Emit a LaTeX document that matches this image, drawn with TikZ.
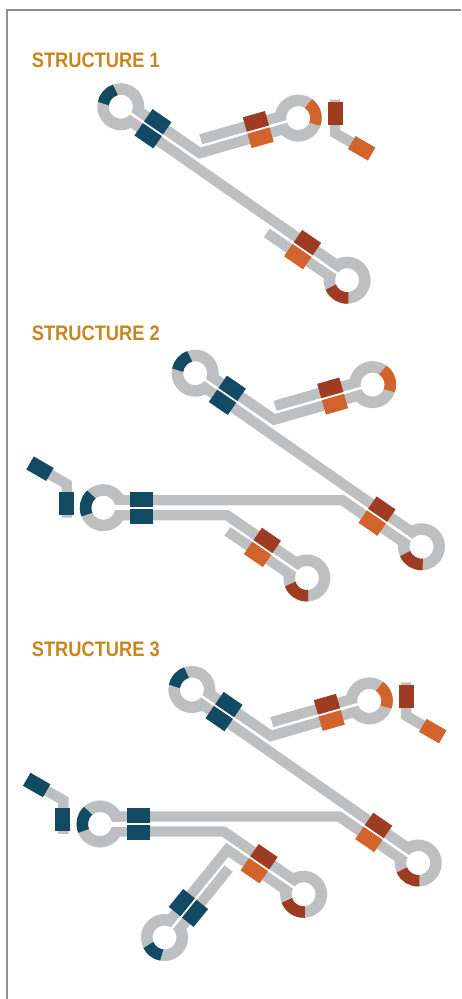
\documentclass[tikz,border=0pt]{standalone}
\usepackage{fontspec}
\setmainfont{Liberation Sans}
\usetikzlibrary{calc}

\definecolor{strandgray}{HTML}{BDBFC1}
\definecolor{pairblue}{HTML}{134A63}
\definecolor{pairrust}{HTML}{9D3C21}
\definecolor{pairamber}{HTML}{D2632C}
\definecolor{titlegold}{HTML}{C8861E}
\definecolor{framegray}{HTML}{8E8E8E}

\tikzset{
  strand/.style={draw=strandgray, line width=10.4pt, line join=miter, miter limit=10, line cap=butt},
  ringline/.style={draw=strandgray, line width=11.5pt},
  arcline/.style={line width=11.5pt, line cap=butt},
  gapline/.style={draw=white, line cap=butt},
  heading/.style={anchor=base west, inner sep=0pt, text=titlegold,
                  font=\bfseries\fontsize{21}{25}\selectfont},
}

% filled 23 x 15 box centred at #1, long side along angle #2
\newcommand{\pairbox}[3]{%
  \fill[#3] (#1) ++(#2:11.5) ++({#2+90}:7.5) -- ++({#2-90}:15) -- ++({#2+180}:23)
    -- ++({#2+90}:15) -- cycle;}

% loop ring with coloured arc and a pair of boxes on its stem
% #1 centre, #2 stem angle, #3 box distance, #4 gap width,
% #5/#6 arc angles, #7 arc colour, #8 box on the (#2-90) side, #9 box on the (#2+90) side
\newcommand{\hairpin}[9]{%
  \draw[ringline] (#1) circle[radius=17.75];
  \draw[gapline, line width=#4] ($(#1)+(#2:10)$) -- ($(#1)+(#2:{#3+11.5})$);
  \draw[arcline, draw=#7] ($(#1)+(#5:17.75)$) arc[start angle=#5, end angle=#6, radius=17.75];
  \pairbox{$(#1)+(#2:#3)+({#2-90}:8.5)$}{#2}{#8}%
  \pairbox{$(#1)+(#2:#3)+({#2+90}:8.5)$}{#2}{#9}%
}

% dangling end: straight box, elbow, slanted box; #2 is + or - for its orientation
\newcommand{\tailpiece}[4]{%
  \coordinate (tailE) at (#1);
  \draw[strand] ($(tailE)#2(0,-33.5)$) -- (tailE) -- ($(tailE)#2(30:38)$);
  \pairbox{$(tailE)#2(0.5,-19.5)$}{90}{#3}%
  \pairbox{$(tailE)#2(26.7,15.3)$}{30}{#4}%
}

% loop centres relative to the origin (O)
\newcommand{\setloops}{%
  \coordinate (A) at ($(O)+(195.2,373.2)$);
  \coordinate (B) at ($(O)+(372.6,384.6)$);
  \coordinate (C) at ($(O)+(421.5,546.7)$);
  \coordinate (L) at ($(O)+(103.3,507.7)$);
  \coordinate (D) at ($(O)+(306.9,578.0)$);
  \coordinate (E) at ($(O)+(167.8,621.2)$);
}

% strands shared by the three upper hairpins
\newcommand{\abcstrands}{%
  \draw[strand] ($(A)+(34.5:15)+(124.5:6.5)$) -- ($(C)+(214.5:15)+(304.5:6.5)$);
  \coordinate (a1) at ($(A)+(-55.5:6.5)$);
  \coordinate (a2) at ($(a1)+(34.5:100)$);
  \coordinate (b1) at ($(B)+(74:6.5)$);
  \coordinate (b2) at ($(b1)+(164:100)$);
  \coordinate (K) at (intersection of a1--a2 and b1--b2);
  \draw[strand] ($(a1)+(34.5:15)$) -- (K) -- ($(b1)+(164:15)$);
  \draw[strand] ($(B)+(254:6.5)+(164:15)$) -- ($(B)+(254:6.5)+(164:99.5)$);
}

\newcommand{\abchairpins}{%
  \hairpin{A}{34.5}{39}{2.5pt}{-170}{-108}{pairblue}{pairblue}{pairblue}
  \hairpin{B}{164}{41.6}{2.5pt}{-55}{20}{pairamber}{pairamber}{pairrust}
  \hairpin{C}{214.5}{54}{2.5pt}{86}{157}{pairrust}{pairamber}{pairrust}
}

% left hairpin joined to C and D
\newcommand{\leftstrands}{%
  \coordinate (c1) at ($(C)+(124.5:6.5)$);
  \coordinate (c2) at ($(c1)+(214.5:100)$);
  \coordinate (l1) at ($(L)+(0,-7.5)$);
  \coordinate (l2) at ($(l1)+(300,0)$);
  \coordinate (P) at (intersection of c1--c2 and l1--l2);
  \draw[strand] ($(c1)+(214.5:15)$) -- (P) -- ($(l1)+(15,0)$);
  \coordinate (d1) at ($(D)+(304.5:6.5)$);
  \coordinate (d2) at ($(d1)+(214.5:100)$);
  \coordinate (l3) at ($(L)+(0,7.5)$);
  \coordinate (l4) at ($(l3)+(300,0)$);
  \coordinate (Q) at (intersection of d1--d2 and l3--l4);
  \draw[strand] ($(d1)+(214.5:15)$) -- (Q) -- ($(l3)+(15,0)$);
}

\begin{document}
\begin{tikzpicture}[x=1pt, y=-1pt]
\useasboundingbox (0,0) rectangle (461,999);
\fill[white] (0,0) rectangle (461,999);
\draw[framegray, line width=1.2pt] (461,10) -- (7,10) -- (7,999);

\node[heading] (t1) at (31.7,67.8) {\scalebox{0.87}[1]{STRUCTURE 1}};
\node[heading] (t2) at (31.7,340.2) {\scalebox{0.87}[1]{STRUCTURE 2}};
\node[heading] (t3) at (31.7,656.2) {\scalebox{0.87}[1]{STRUCTURE 3}};

% ---------- structure 1 ----------
\coordinate (O) at (-74.4,-266.5);
\setloops
\abcstrands
\draw[strand] ($(C)+(124.5:6.5)+(214.5:15)$) -- ($(C)+(124.5:6.5)+(214.5:93)$);
\abchairpins
\tailpiece{$(B)+(36.8,14.9)$}{+}{pairrust}{pairamber}

% ---------- structure 2 ----------
\coordinate (O) at (0,0);
\setloops
\abcstrands
\leftstrands
\draw[strand] ($(D)+(124.5:6.5)+(214.5:15)$) -- ($(D)+(124.5:6.5)+(214.5:92)$);
\abchairpins
\hairpin{L}{0}{38.4}{5pt}{157}{228}{pairblue}{pairblue}{pairblue}
\hairpin{D}{214.5}{54}{2.5pt}{86}{160}{pairrust}{pairamber}{pairrust}
\tailpiece{$(L)+(-36.6,-23.7)$}{-}{pairblue}{pairblue}

% ---------- structure 3 ----------
\coordinate (O) at (-3.3,316.3);
\setloops
\abcstrands
\leftstrands
\coordinate (d3) at ($(D)+(124.5:6.5)$);
\coordinate (d4) at ($(d3)+(214.5:100)$);
\coordinate (e1) at ($(E)+(-141:6.5)$);
\coordinate (e2) at ($(e1)+(-51:150)$);
\coordinate (R) at (intersection of d3--d4 and e1--e2);
\draw[strand] ($(d3)+(214.5:15)$) -- (R) -- ($(e1)+(-51:15)$);
\draw[strand] ($(E)+(39:6.5)+(-51:15)$) -- ($(E)+(39:6.5)+(-51:94)$);
\abchairpins
\hairpin{L}{0}{38.4}{5pt}{157}{228}{pairblue}{pairblue}{pairblue}
\hairpin{D}{214.5}{54}{2.5pt}{86}{160}{pairrust}{pairamber}{pairrust}
\hairpin{E}{-51}{38}{2.5pt}{99}{155}{pairblue}{pairblue}{pairblue}
\tailpiece{$(L)+(-36.6,-23.7)$}{-}{pairblue}{pairblue}
\tailpiece{$(B)+(36.8,14.9)$}{+}{pairrust}{pairamber}
\end{tikzpicture}
\end{document}
